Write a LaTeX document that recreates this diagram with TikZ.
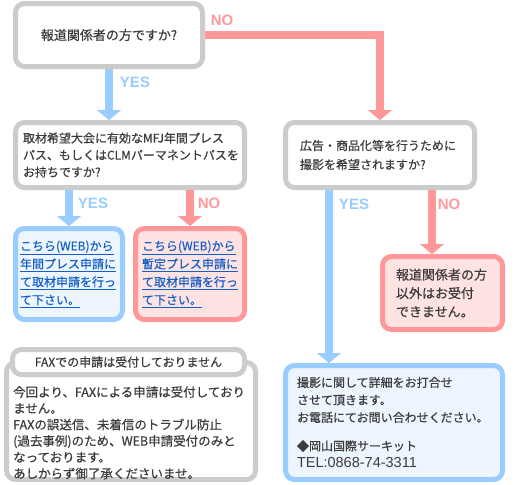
\documentclass[tikz,border=0pt]{standalone}
\usepackage{fontspec}
\setmainfont{Noto Sans CJK JP}[FakeBold=0.5]
\newfontfamily\lblfont{Liberation Sans}
\usetikzlibrary{arrows.meta,positioning,calc}

\definecolor{framegray}{HTML}{CCCCCC}
\definecolor{yesblue}{HTML}{99CCFF}
\definecolor{nopink}{HTML}{FF9999}
\definecolor{paleblue}{HTML}{EDF5FF}
\definecolor{palepink}{HTML}{FFE2E2}
\definecolor{txtgray}{HTML}{3C3C3C}
\definecolor{linkblue}{HTML}{1560C8}

\newcommand\weblink[1]{\underline{#1}}
\newcommand\latword[1]{{\lblfont\fontsize{14.5}{17.5}\selectfont #1}}

\tikzset{
  box/.style={draw, line width=5pt, rounded corners=9pt, fill=white,
    text=txtgray, align=left, inner ysep=0pt},
  graybox/.style={box, draw=framegray},
  bluebox/.style={box, draw=yesblue, fill=paleblue},
  pinkbox/.style={box, draw=nopink, fill=palepink},
  yesarrow/.style={draw=yesblue, line width=8pt,
    -{Triangle[width=24pt,length=10pt,line width=0.1pt]}},
  noarrow/.style={draw=nopink, line width=8pt,
    -{Triangle[width=24pt,length=10pt,line width=0.1pt]}},
  yeslbl/.style={text=yesblue, font=\lblfont\bfseries\fontsize{15}{15}\selectfont},
  nolbl/.style={text=nopink, font=\lblfont\bfseries\fontsize{15}{15}\selectfont},
}

\begin{document}
\begin{tikzpicture}[x=1pt,y=-1pt]
\useasboundingbox (0,0) rectangle (520,485);

% questions
\node[graybox, minimum width=187, minimum height=63, align=center,
  font=\fontsize{13}{18}\selectfont] (q1) at (109,35) {報道関係者の方ですか?};
\node[graybox, text width=214, inner xsep=7.5, minimum height=65,
  font=\fontsize{12}{17}\selectfont] (q2) at (130,155)
  {取材希望大会に有効なMFJ年間プレス\\パス、もしくはCLMパーマネントパスを\\お持ちですか?};
\node[graybox, text width=160, inner xsep=14.5, minimum height=65,
  font=\fontsize{12}{19}\selectfont] (q3) at (380,155)
  {広告・商品化等を行うために\\撮影を希望されますか?};

% answers
\node[bluebox, text width=98, inner xsep=4.5, minimum height=91, text=linkblue,
  font=\fontsize{12}{18}\selectfont] (web1) at (69,274)
  {\weblink{こちら(WEB)から}\\\weblink{年間プレス申請に}\\\weblink{て取材申請を行っ}\\\weblink{て下さい。}};
\node[pinkbox, text width=96, inner xsep=6.5, minimum height=91, text=linkblue,
  font=\fontsize{12}{18}\selectfont] (web2) at (190,274)
  {\weblink{こちら(WEB)から}\\\weblink{暫定プレス申請に}\\\weblink{て取材申請を行っ}\\\weblink{て下さい。}};
\node[pinkbox, text width=93, inner xsep=13.5, minimum height=73,
  font=\fontsize{13}{18.5}\selectfont] (refuse) at (442.5,293)
  {報道関係者の方\\以外はお受付\\できません。};
\node[bluebox, text width=194, inner xsep=11.5, minimum height=114,
  font=\fontsize{12}{17.5}\selectfont] (contact) at (394,422.5)
  {撮影に関して詳細をお打合せ\\させて頂きます。\\お電話にてお問い合わせください。\\[11pt]
   ◆岡山国際サーキット\\\latword{TEL:0868-74-3311}};

% fax notice
\node[graybox, minimum width=249, minimum height=117] (fax) at (131,421) {};
\node[graybox, minimum width=232, minimum height=25, align=center,
  font=\fontsize{12}{14}\selectfont] (faxhead) at (128.5,362) {FAXでの申請は受付しておりません};
\node[anchor=north west, inner sep=0pt, text width=240, align=left, text=txtgray,
  font=\fontsize{12.5}{16.3}\selectfont] (faxtxt) at (13,386)
  {今回より、FAXによる申請は受付しており\\ません。\\FAXの誤送信、未着信のトラブル防止\\(過去事例)のため、WEB申請受付のみと\\なっております。\\あしからず御了承くださいませ。};

% connectors
\draw[noarrow] (q1.east) -| (q3.north);
\draw[yesarrow] (q1.south) -- (q1.south |- q2.north);
\draw[yesarrow] (q2.south -| web1.north) -- (web1.north);
\draw[noarrow] (q2.south -| web2.north) -- (web2.north);
\draw[yesarrow] (q3.south) ++(-51,0) coordinate (yesdown) -- (yesdown |- contact.north);
\draw[noarrow] (q3.south) ++(52,0) coordinate (nodown) -- (nodown |- refuse.north);

% labels
\node[nolbl] (n1) at (222,20) {NO};
\node[yeslbl] (y1) at (135,82) {YES};
\node[yeslbl] (y2) at (93,203) {YES};
\node[nolbl] (n2) at (209,203) {NO};
\node[yeslbl] (y3) at (354,204) {YES};
\node[nolbl] (n3) at (449,204) {NO};

\end{tikzpicture}
\end{document}
